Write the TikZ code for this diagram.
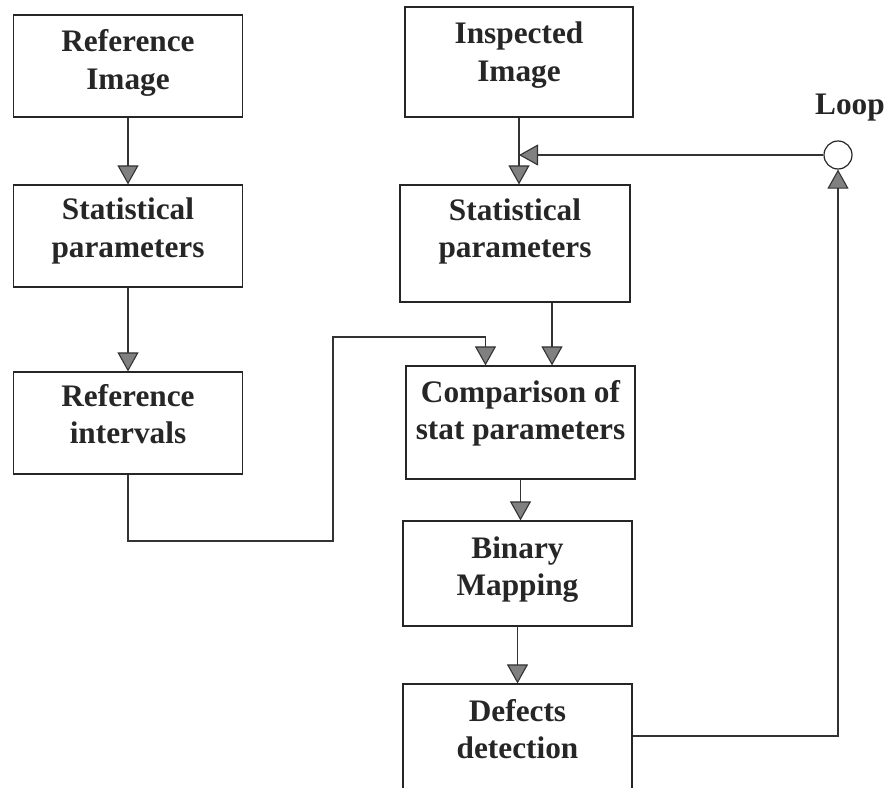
\documentclass[tikz,border=0pt]{standalone}
\usepackage{fontspec}
\setmainfont{Liberation Serif}
\usetikzlibrary{arrows.meta}
\newcommand{\boxfont}{\fontsize{31.3}{37.5}\selectfont\bfseries}
\begin{document}
\begin{tikzpicture}[x=1pt,y=-1pt,
  box/.style={draw=black!85,line width=1.2pt,minimum width=229pt,inner sep=0pt},
  txt/.style={align=center,font=\boxfont,text=black!85},
  flow/.style={draw=black!80,line width=1.1pt,-{Triangle[width=21pt,length=19pt,fill=black!50]}},
  link/.style={draw=black!80,line width=1.1pt}]
\useasboundingbox (0,0) rectangle (891,787);
\clip (0,0) rectangle (891,787);
\node[box,minimum height=102pt] (refimg) at (128,66) {};
\node[txt] (refimgt) at ([yshift=3pt]refimg.center) {Reference\\Image};
\node[box,minimum height=102pt] (refpar) at (128,236) {};
\node[txt] (refpart) at ([yshift=5pt]refpar.center) {Statistical\\parameters};
\node[box,minimum height=102pt] (refint) at (128,423) {};
\node[txt] (refintt) at ([yshift=9pt]refint.center) {Reference\\intervals};
\node[box,minimum height=110pt,minimum width=228pt] (inspimg) at (519,62) {};
\node[txt] (inspimgt) at ([yshift=7pt]inspimg.center) {Inspected\\Image};
\node[box,minimum height=117pt,minimum width=230pt] (inspar) at (515,243.5) {};
\node[txt] (inspart) at ([yshift=12pt]inspar.center) {Statistical\\parameters};
\node[box,minimum height=113pt] (cmp) at (520.5,422.5) {};
\node[txt] (cmpt) at ([yshift=9pt]cmp.center) {Comparison of\\stat parameters};
\node[box,minimum height=105pt] (bin) at (517.5,573.5) {};
\node[txt] (bint) at ([yshift=4pt]bin.center) {Binary\\Mapping};
\node[box,minimum height=112pt] (def) at (517.5,740) {};
\node[txt] (deft) at ([yshift=11pt]def.center) {Defects\\detection};
\node[draw=black!85,line width=1.2pt,circle,minimum size=28pt,inner sep=0pt] (loop) at (838,155) {};
\node[txt] (loopt) at (850,108) {Loop};
\coordinate (j1) at (333,541);
\coordinate (j2) at (333,337);
\draw[flow] (refimg.south) -- (refpar.north);
\draw[flow] (refpar.south) -- (refint.north);
\draw[flow] (refint.south) |- (j1) -- (j2) -| ([xshift=-35pt]cmp.north);
\draw[flow] (inspimg.south) -- (inspimg.south |- inspar.north);
\draw[flow] ([xshift=37pt]inspar.south) -- ([xshift=37pt]inspar.south |- cmp.north);
\draw[flow] (cmp.south) -- (cmp.south |- bin.north);
\draw[flow] (bin.south) -- (def.north);
\draw[flow] ([yshift=4pt]def.east) -| (loop.south);
\draw[flow] (loop.west) -- (loop.west -| inspimg.south);
\end{tikzpicture}
\end{document}
